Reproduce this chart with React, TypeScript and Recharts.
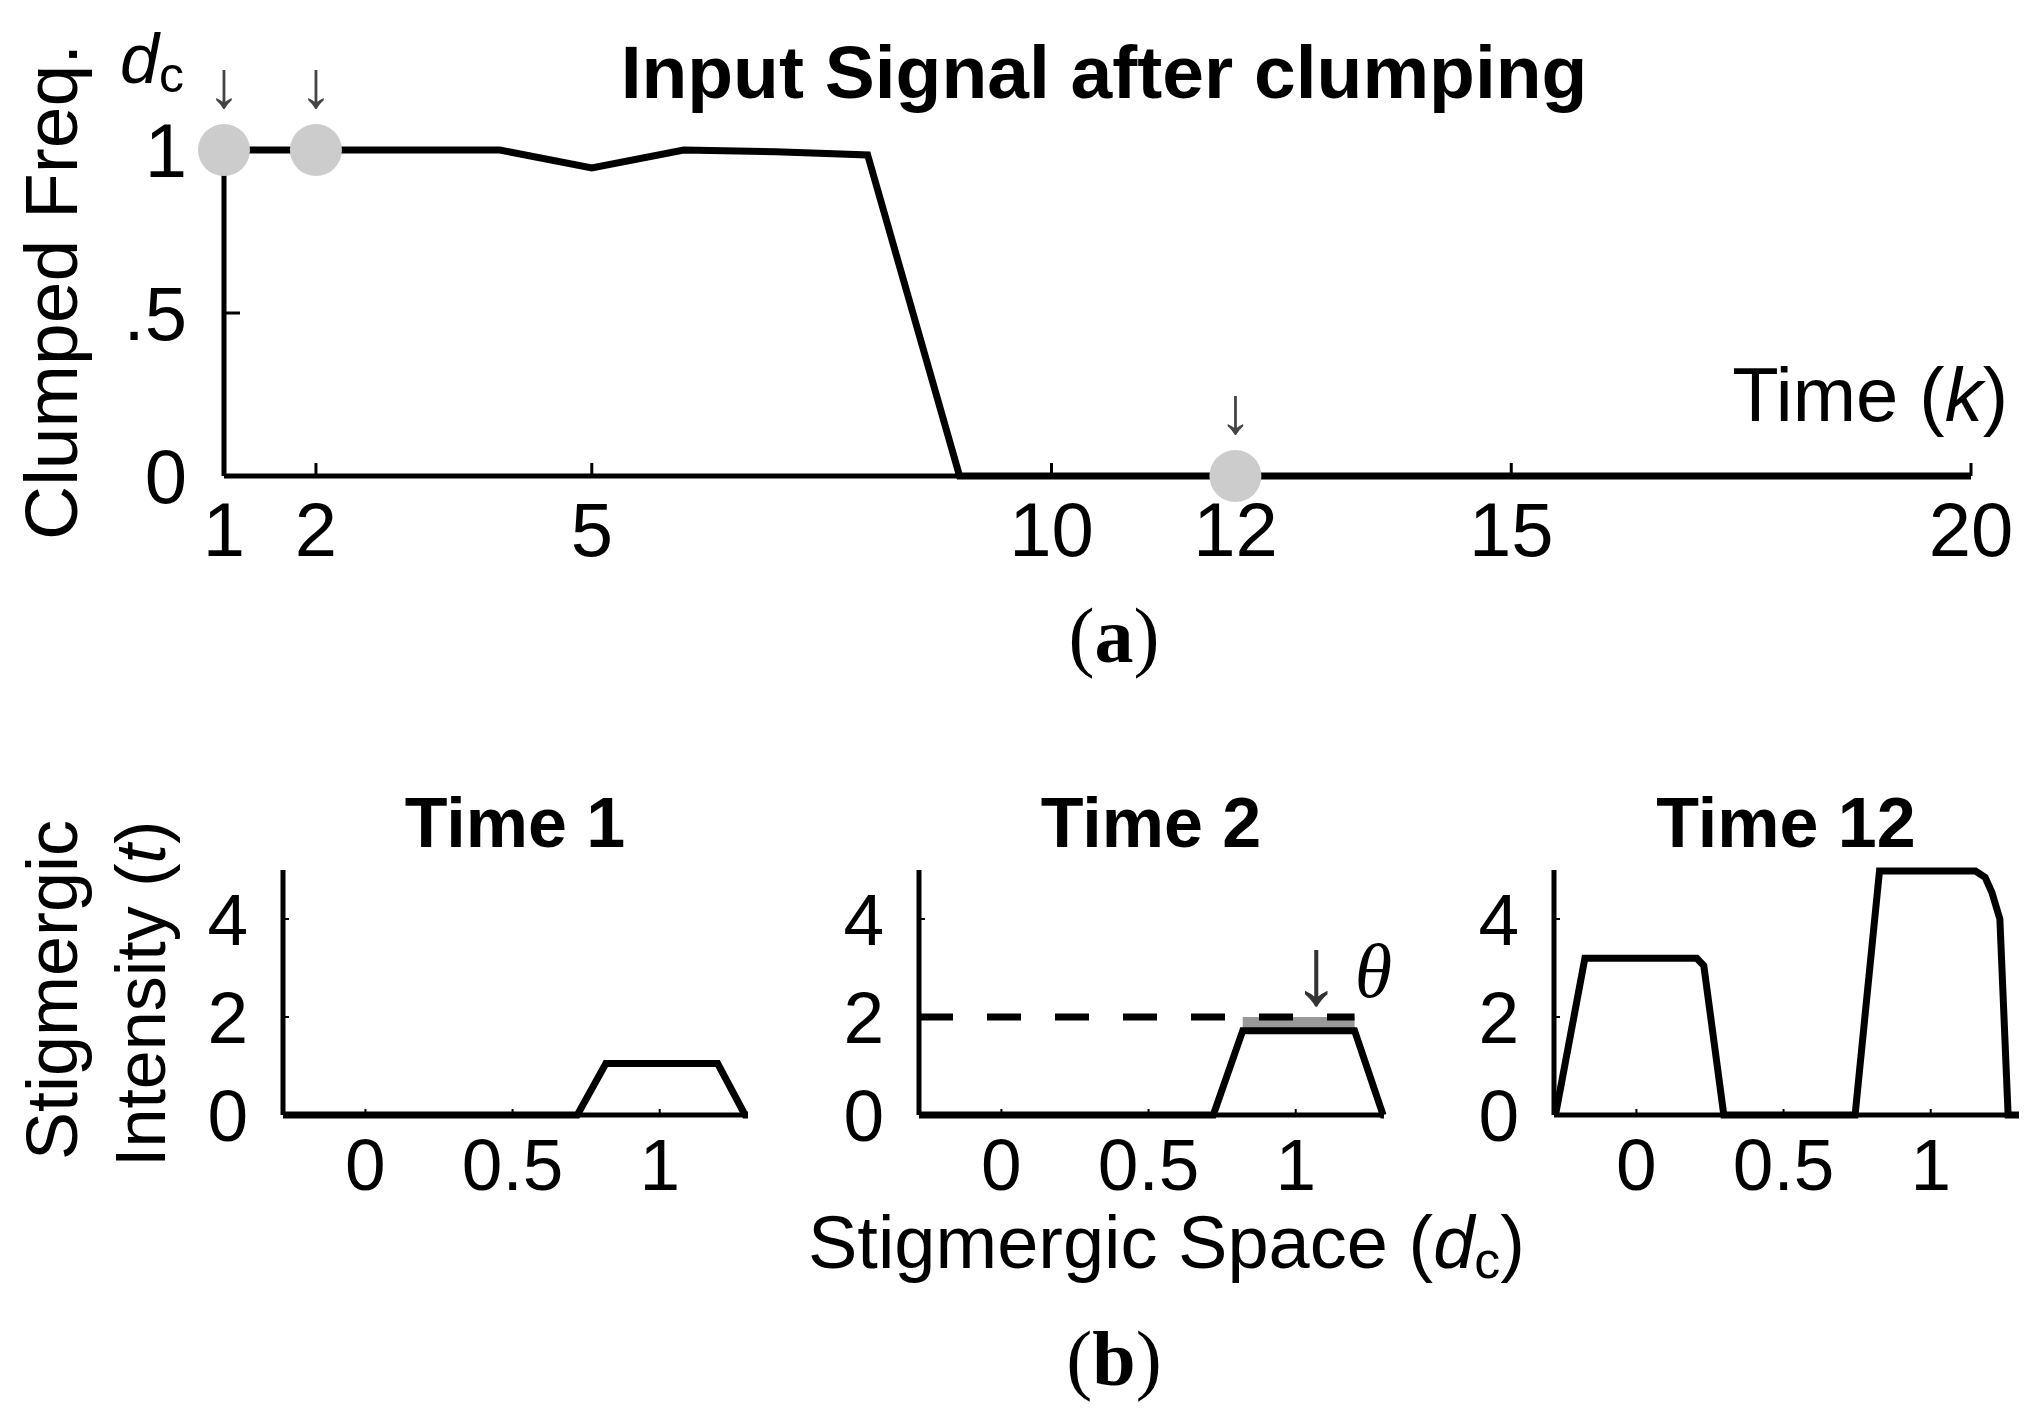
import React from 'react';
import {
  ComposedChart,
  Line,
  XAxis,
  YAxis,
  ReferenceDot,
  ReferenceLine,
  ReferenceArea,
} from 'recharts';

const SANS = '"Liberation Sans", Arial, Helvetica, sans-serif';
const SERIF = '"Liberation Serif", "Times New Roman", serif';

// ---------------- panel (a): input signal after clumping ----------------
const timeSteps = [1, 2, 3, 4, 5, 6, 7, 8, 9, 10, 11, 12, 13, 14, 15, 16, 17, 18, 19, 20];
const clumpedFreq = [1, 1, 1, 1, 0.945, 1, 0.995, 0.985, 0, 0, 0, 0, 0, 0, 0, 0, 0, 0, 0, 0];
const timeTicks = [1, 2, 5, 10, 12, 15, 20];
const freqTicks = [0, 0.5, 1];
const freqTickLabels = ['0', '.5', '1'];
const markedTimes = [1, 2, 12];

// ---------------- panel (b): stigmergic intensity ----------------
const spaceTicks = [0, 0.5, 1];
const intensityTicks = [0, 2, 4];
const panelTitles = ['Time 1', 'Time 2', 'Time 12'];

const time1Space = [-0.28, 0.72, 0.817, 1.197, 1.29, 1.3];
const time1Intensity = [0, 0, 1.05, 1.05, 0, 0];

const time2Space = [-0.28, 0.72, 0.82, 1.2, 1.297, 1.3];
const time2Intensity = [0, 0, 1.72, 1.72, 0, 0];

const time12Space = [-0.275, -0.175, 0.205, 0.229, 0.297, 0.743, 0.826, 1.152, 1.185, 1.208, 1.235, 1.263, 1.3];
const time12Intensity = [0, 3.2, 3.2, 3.05, 0, 0, 4.98, 4.98, 4.85, 4.54, 4.0, 0, 0];

const threshold = 2;
const thresholdSpan = [-0.28, 1.2];
const excessSpan = [0.82, 1.2];
const excessLow = 1.72;
const thetaArrowAt = 1.07;

const topData = timeSteps.map((t, i) => ({ t, f: clumpedFreq[i] }));

const smallArrow = (props: any) => {
  const vb = props.viewBox || {};
  const cx = vb.x + vb.width / 2;
  return (
    <text x={cx} y={vb.y - 17} textAnchor="middle" fontSize={66} fontFamily={SANS} fill="#444">
      ↓
    </text>
  );
};

const thetaArrow = (props: any) => {
  const vb = props.viewBox || {};
  const cx = vb.x + vb.width / 2;
  const cy = vb.y + vb.height / 2;
  return (
    <g>
      <text x={cx} y={cy - 13} textAnchor="middle" fontSize={96} fontFamily={SANS} fill="#333">
        ↓
      </text>
      <text x={cx + 57} y={cy - 20} textAnchor="middle" fontSize={76} fontFamily={SERIF} fontStyle="italic" fill="#000">
        θ
      </text>
    </g>
  );
};

const axisStyle = { stroke: '#000', strokeWidth: 5 };

function TopChart() {
  return (
    <div style={{ position: 'absolute', left: 0, top: 0 }}>
      <ComposedChart width={2038} height={620} data={topData} margin={{ top: 150, right: 67, left: 104, bottom: 44 }}>
        <XAxis
          dataKey="t"
          type="number"
          domain={[1, 20]}
          ticks={timeTicks}
          interval={0}
          height={100}
          axisLine={axisStyle}
          tickLine={{ stroke: '#000', strokeWidth: 3 }}
          tickSize={-13}
          tickMargin={39}
          tick={{ fill: '#000', fontSize: 76, fontFamily: SANS }}
        />
        <YAxis
          type="number"
          domain={[0, 1]}
          ticks={freqTicks}
          interval={0}
          width={120}
          tickFormatter={(v: number) => freqTickLabels[freqTicks.indexOf(v)]}
          axisLine={axisStyle}
          tickLine={{ stroke: '#000', strokeWidth: 3 }}
          tickSize={-16}
          tickMargin={53}
          tick={{ fill: '#000', fontSize: 76, fontFamily: SANS }}
        />
        <Line dataKey="f" type="linear" stroke="#000" strokeWidth={7} dot={false} isAnimationActive={false} />
        {markedTimes.map((t) => (
          <ReferenceDot
            key={t}
            x={t}
            y={clumpedFreq[timeSteps.indexOf(t)]}
            r={26}
            fill="#cccccc"
            stroke="none"
            ifOverflow="visible"
            label={smallArrow}
          />
        ))}
      </ComposedChart>
    </div>
  );
}

function StigPanel({ plotLeft, xs, ys, children }: { plotLeft: number; xs: number[]; ys: number[]; children?: any }) {
  const data = xs.map((x, i) => ({ x, y: ys[i] }));
  return (
    <div style={{ position: 'absolute', left: plotLeft - 110, top: 850 }}>
      <ComposedChart width={597} height={375} data={data} margin={{ top: 20, left: 10, right: 22, bottom: 10 }}>
        <XAxis
          dataKey="x"
          type="number"
          domain={[-0.28, 1.3]}
          ticks={spaceTicks}
          interval={0}
          height={100}
          axisLine={axisStyle}
          tickLine={{ stroke: '#000', strokeWidth: 2 }}
          tickSize={-6}
          tickMargin={29}
          tick={{ fill: '#000', fontSize: 73, fontFamily: SANS }}
        />
        <YAxis
          type="number"
          domain={[0, 5]}
          ticks={intensityTicks}
          interval={0}
          width={100}
          axisLine={axisStyle}
          tickLine={{ stroke: '#000', strokeWidth: 2 }}
          tickSize={-6}
          tickMargin={41}
          tick={{ fill: '#000', fontSize: 73, fontFamily: SANS }}
        />
        {children}
        <Line dataKey="y" type="linear" stroke="#000" strokeWidth={7} dot={false} isAnimationActive={false} />
      </ComposedChart>
    </div>
  );
}

function Overlay() {
  const panelCenters = [283 + 232, 919 + 232, 1554 + 232];
  return (
    <svg width={2038} height={1413} style={{ position: 'absolute', left: 0, top: 0, pointerEvents: 'none' }}>
      <text x={1104} y={98} textAnchor="middle" fontSize={75} fontWeight="bold" fontFamily={SANS} fill="#000">
        Input Signal after clumping
      </text>
      <text x={77} y={292} transform="rotate(-90 77 292)" textAnchor="middle" fontSize={75} fontFamily={SANS} fill="#000">
        Clumped Freq.
      </text>
      <text x={120} y={83} fontSize={70} fontFamily={SANS} fill="#000">
        <tspan fontStyle="italic">d</tspan>
        <tspan fontSize={50} dy={9}>c</tspan>
      </text>
      <text x={2008} y={421} textAnchor="end" fontSize={76} fontFamily={SANS} fill="#000">
        Time (<tspan fontStyle="italic">k</tspan>)
      </text>
      <text x={1114} y={662} textAnchor="middle" fontSize={78} fontFamily={SERIF} fill="#000">
        (<tspan fontWeight="bold">a</tspan>)
      </text>

      {panelTitles.map((t, i) => (
        <text key={t} x={panelCenters[i]} y={847} textAnchor="middle" fontSize={70} fontWeight="bold" fontFamily={SANS} fill="#000">
          {t}
        </text>
      ))}
      <text x={77} y={1160} transform="rotate(-90 77 1160)" fontSize={72} fontFamily={SANS} fill="#000">
        Stigmergic
      </text>
      <text x={165} y={1167} transform="rotate(-90 165 1167)" fontSize={70} fontFamily={SANS} fill="#000">
        Intensity (<tspan fontStyle="italic">t</tspan>)
      </text>
      <text x={808} y={1268} fontSize={74} fontFamily={SANS} fill="#000">
        Stigmergic Space (<tspan fontStyle="italic">d</tspan>
        <tspan fontSize={52} dy={10}>c</tspan>
        <tspan dy={-10}>)</tspan>
      </text>
      <text x={1114} y={1385} textAnchor="middle" fontSize={78} fontFamily={SERIF} fill="#000">
        (<tspan fontWeight="bold">b</tspan>)
      </text>
    </svg>
  );
}

export default function App() {
  return (
    <div style={{ position: 'absolute', left: 0, top: 0, width: 2038, height: 1413, background: '#fff', overflow: 'hidden' }}>
      <TopChart />
      <StigPanel plotLeft={283} xs={time1Space} ys={time1Intensity} />
      <StigPanel plotLeft={919} xs={time2Space} ys={time2Intensity}>
        <ReferenceArea x1={excessSpan[0]} x2={excessSpan[1]} y1={excessLow} y2={threshold} fill="#999" fillOpacity={1} stroke="none" />
        <ReferenceLine
          segment={[
            { x: thresholdSpan[0], y: threshold },
            { x: thresholdSpan[1], y: threshold },
          ]}
          stroke="#000"
          strokeWidth={7}
          strokeDasharray="34 34"
        />
        <ReferenceDot x={thetaArrowAt} y={threshold} r={1} fill="none" stroke="none" label={thetaArrow} />
      </StigPanel>
      <StigPanel plotLeft={1554} xs={time12Space} ys={time12Intensity} />
      <Overlay />
    </div>
  );
}
